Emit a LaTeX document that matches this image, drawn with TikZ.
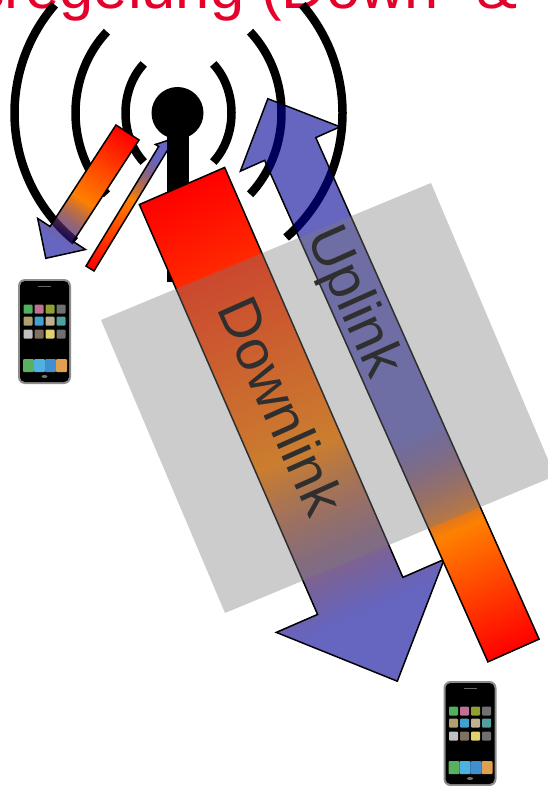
\documentclass[tikz,border=0pt]{standalone}
\usepackage{fontspec}
\setsansfont{Liberation Sans}
\usetikzlibrary{arrows.meta, positioning, fadings}
\definecolor{cred}{HTML}{FF0000}
\definecolor{corange}{HTML}{FF8000}
\definecolor{cblue}{HTML}{000096}
\definecolor{ctitle}{HTML}{E4002B}
\definecolor{cshade}{HTML}{7B7B7B}
\pgfdeclarehorizontalshading{longshade}{100bp}{color(0bp)=(cred); color(25bp)=(cred); color(52bp)=(corange); color(68bp)=(cblue); color(100bp)=(cblue)}
\pgfdeclarehorizontalshading{longfadeshade}{100bp}{color(0bp)=(transparent!0); color(52bp)=(transparent!0); color(68bp)=(transparent!40); color(100bp)=(transparent!40)}
\pgfdeclarefading{longfade}{\pgfuseshading{longfadeshade}}
\pgfdeclarehorizontalshading{upshade}{100bp}{color(0bp)=(cred); color(25bp)=(cred); color(36bp)=(corange); color(45bp)=(cblue); color(100bp)=(cblue)}
\pgfdeclarehorizontalshading{upfadeshade}{100bp}{color(0bp)=(transparent!0); color(36bp)=(transparent!0); color(45bp)=(transparent!40); color(100bp)=(transparent!40)}
\pgfdeclarefading{upfade}{\pgfuseshading{upfadeshade}}
% tail x,y / angle / length / shaft width / head width / head length / shading / fading
\newcommand{\gradarrow}[8]{
  \begin{scope}[transform canvas={shift={(#1)},rotate=#2}]
    \shade[shading=#7, path fading=#8] (0,-#4/2) -- (#3-#6,-#4/2) -- (#3-#6,-#5/2) -- (#3,0) -- (#3-#6,#5/2) -- (#3-#6,#4/2) -- (0,#4/2) -- cycle;
    \draw[arrowline] (0,-#4/2) -- (#3-#6,-#4/2) -- (#3-#6,-#5/2) -- (#3,0) -- (#3-#6,#5/2) -- (#3-#6,#4/2) -- (0,#4/2) -- cycle;
  \end{scope}
}
\tikzset{
  every picture/.style={font=\sffamily, x=1pt, y=-1pt},
  wave/.style={draw=black, line width=8.5pt},
  arrowline/.style={draw=black, line width=1.5pt, line join=miter},
  arrowlabel/.style={font=\sffamily\fontsize{57}{57}\selectfont, text=black, inner sep=0pt, text depth=0pt},
  title/.style={font=\sffamily\fontsize{61.5}{61.5}\selectfont, text=ctitle, inner sep=0pt},
  icon/.style={rounded corners=1pt},
  phone/.pic={
    \fill[black!45, rounded corners=7pt] (0,0) rectangle (53,105);
    \fill[black, rounded corners=5pt] (2,2) rectangle (51,103);
    \fill[black!60] (20,7) rectangle (33,8);
    \foreach \c/\x/\y in {50B060/10/30, C07090/21/30, 90A030/32/30, 707070/43/30,
                          B0A070/10/42, 40A0D0/21/42, C0B090/32/42, 50A0A0/43/42,
                          C0C0C0/10/55, 807060/21/55, E0D070/32/55, 707070/43/55} {
      \definecolor{icolor}{HTML}{\c}
      \fill[icolor, icon] (\x-4.5,\y-4.5) rectangle (\x+4.5,\y+4.5);
    }
    \foreach \c/\x in {59B060/5, 50B0E0/16, 4090D0/27, E0A050/38} {
      \definecolor{icolor}{HTML}{\c}
      \fill[icolor, icon] (\x,80) rectangle (\x+11,93);
    }
    \fill[black!55] (26.5,97.5) ellipse (3 and 1.5);
  },
}

\begin{document}
\begin{tikzpicture}
  \useasboundingbox (0,0) rectangle (548,786);
  \node[title, anchor=base west] (heading) at (-26,8.5) {sregelung (Down- \&};
  % antenna
  \fill (177.5,113) circle (26);
  \fill (166.5,125) rectangle (188.5,282);
  \draw[wave] (178.5,113) ++(-49:53 and 65) arc[start angle=-49, end angle=49, x radius=53, y radius=65];
  \draw[wave] (178.5,113) ++(131:53 and 65) arc[start angle=131, end angle=229, x radius=53, y radius=65];
  \draw[wave] (178.5,113) ++(-46:103 and 113) arc[start angle=-46, end angle=46, x radius=103, y radius=113];
  \draw[wave] (178.5,113) ++(134:103 and 113) arc[start angle=134, end angle=226, x radius=103, y radius=113];
  \draw[wave] (178.5,113) ++(-41:164 and 165) arc[start angle=-41, end angle=49, x radius=164, y radius=165];
  \draw[wave] (178.5,113) ++(129:164 and 165) arc[start angle=129, end angle=221, x radius=164, y radius=165];
  % arrows
  \gradarrow{127.5,132.5}{-123}{150}{27.5}{57}{29}{longshade}{longfade}
  \gradarrow{90,268.5}{58.7}{150}{9.4}{17}{10}{longshade}{longfade}
  \gradarrow{182,186}{-66.5}{540}{93}{183}{93}{longshade}{longfade}
  \gradarrow{513.5,650.5}{114}{604}{56}{109}{55}{upshade}{upfade}
  \node[arrowlabel, rotate=-66] (downlink) at (282,406) {Downlink};
  \node[arrowlabel, rotate=-66] (uplink) at (358,300) {Uplink};
  % grey sheet on top
  \fill[cshade, opacity=0.39] (101,320) -- (431,183) -- (555,476) -- (225,613) -- cycle;
  \pic (phoneleft) at (18,279) {phone};
  \pic (phoneright) at (443.5,681) {phone};
\end{tikzpicture}
\end{document}
